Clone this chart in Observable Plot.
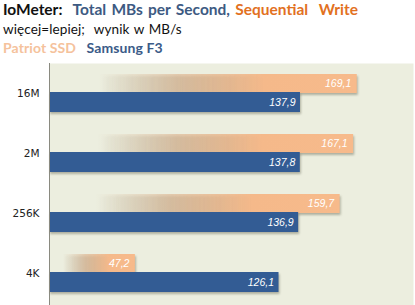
<!DOCTYPE html>
<html>
<head>
<meta charset="utf-8">
<script src="https://cdn.jsdelivr.net/npm/d3@7"></script>
<script src="https://cdn.jsdelivr.net/npm/@observablehq/plot@0.6"></script>
<style>
  html, body { margin: 0; padding: 0; background: #fff; width: 415px; height: 305px; overflow: hidden; }
  #header { position: relative; height: 63px; font-family: Lato, "Noto Sans", sans-serif; }
  #header div { position: absolute; left: 3px; white-space: pre; line-height: 1; }
  #t1 { top: 2px; font-size: 15.5px; font-weight: bold; color: #111; word-spacing: 1.5px; }
  #t2 { top: 23px; font-size: 13.5px; color: #111; letter-spacing: 0.1px; word-spacing: 1px; }
  #t3 { top: 41px; font-size: 14px; font-weight: bold; letter-spacing: 0.1px; }
  svg g[aria-label="bar"] rect { filter: drop-shadow(1.5px 2px 1.2px rgba(60,60,40,0.35)); }
</style>
</head>
<body>
<div id="header">
  <div id="t1">IoMeter:  <span style="color:#3D5A82">Total MBs per Second,</span> <span style="color:#E2711F">Sequential  Write</span></div>
  <div id="t2">więcej=lepiej;  wynik w MB/s</div>
  <div id="t3"><span style="color:#F5C29C">Patriot SSD</span>   <span style="color:#3B5B88">Samsung F3</span></div>
</div>
<div id="chart"></div>
<script>
const categories = ["16M", "2M", "256K", "4K"];
const patriot = [169.1, 167.1, 159.7, 47.2];
const samsung = [137.9, 137.8, 136.9, 126.1];
const seriesNames = ["Patriot SSD", "Samsung F3"];

const fmt = v => d3.format(".1f")(v).replace(".", ",");
const data = categories.map((c, i) => ({cat: c, patriot: patriot[i], samsung: samsung[i]}));

const plot = Plot.plot({
  width: 415,
  height: 242,
  marginLeft: 49,
  marginRight: 2,
  marginTop: 0,
  marginBottom: 0,
  x: {domain: [0, 200], axis: null},
  y: {domain: categories, range: [0, 240], padding: 0, label: null, tickSize: 0, tickPadding: 10},
  style: {background: "transparent", fontFamily: "DejaVu Sans", fontSize: "10.5px", color: "#222"},
  marks: [
    Plot.frame({fill: "#ECEEDF", stroke: null}),
    Plot.barX(data, {x: "patriot", y: "cat", fill: "url(#orangeGrad)", insetTop: 11, insetBottom: 30}),
    Plot.barX(data, {x: "samsung", y: "cat", fill: "#335C94", insetTop: 29, insetBottom: 11}),
    Plot.ruleX([0], {stroke: "#8a8a80", strokeWidth: 1}),
    Plot.text(data, {x: "patriot", y: "cat", text: d => fmt(d.patriot), dy: -9.5, dx: -6, textAnchor: "end", fill: "#fff", fontStyle: "italic", fontFamily: "Liberation Sans", fontSize: 10.5}),
    Plot.text(data, {x: "samsung", y: "cat", text: d => fmt(d.samsung), dy: 9, dx: -5, textAnchor: "end", fill: "#fff", fontStyle: "italic", fontFamily: "Liberation Sans", fontSize: 10.5})
  ]
});

const defs = d3.select(plot).insert("defs", ":first-child");
const g = defs.append("linearGradient").attr("id", "orangeGrad").attr("x1", "0").attr("x2", "1").attr("y1", "0").attr("y2", "0");
[[0, "#D9BC9C", 0], [0.16, "#D9BC9C", 0], [0.42, "#DDB28C", 0.6], [0.7, "#F5B98A", 1], [1, "#F7BA8B", 1]]
  .forEach(([o, c, a]) => g.append("stop").attr("offset", o).attr("stop-color", c).attr("stop-opacity", a));

document.getElementById("chart").append(plot);
</script>
</body>
</html>
